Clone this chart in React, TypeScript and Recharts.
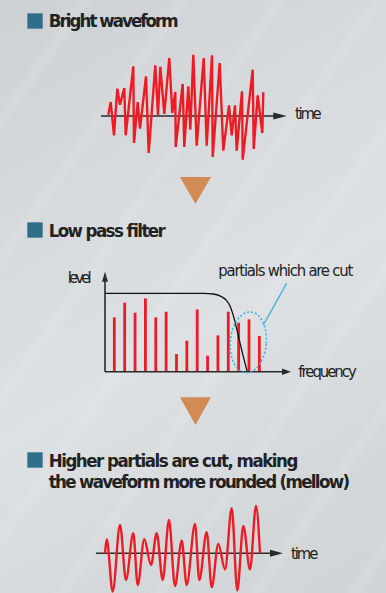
import React from 'react';
import { LineChart, ComposedChart, Line, Bar, XAxis, YAxis, ReferenceLine, ReferenceDot } from 'recharts';

// Bright waveform (time, amplitude)
const brightTime = [8.3, 10.7, 14, 17.3, 20, 24.3, 25.7, 33.3, 34, 37.7, 40, 46, 48.7, 55.3, 58, 60.3, 64.3, 69.3, 72.3, 75.3, 75.7, 82.7, 84.3, 88.3, 90.3, 93.3, 96.7, 103.7, 106.7, 112, 112.7, 119.7, 123.3, 129, 131.7, 135, 136.7, 142, 142.7, 152.7, 153.7, 157.7, 162.3, 163.3];
const brightAmp = [1.3, 14, -19.3, 27.3, 11.3, 28, -19.3, 49.7, -27, 14, -12.7, 39.7, -37, 50.7, 0.7, 49.3, 2, 58, 3, 24, -31, 32, -31, 29.7, -13.7, 61.3, -29.7, 58, -29.7, 60.7, -41, 53, -34.7, 10.7, -19.3, 10.7, -34.7, 24.7, -43.7, 46.3, -33, 20.7, -17, 23.7];

// Partials (harmonic number, level)
const partialNumber = [1, 2, 3, 4, 5, 6, 7, 8, 9, 10, 11, 12, 13, 14, 15];
const partialLevel = [54.3, 69, 59, 73.3, 54.3, 60, 17.7, 31, 62.3, 16, 36.3, 60, 49, 52.3, 35.7];

// Low pass filter response
const filterFreq = [0.1, 9.59, 10.55, 11.36, 11.84, 12.16, 12.42, 12.68, 13.06, 13.45, 13.83];
const filterLevel = [78.3, 78.3, 77.7, 75, 71, 65.7, 58.3, 48.3, 31.7, 15, 0];

// Mellow waveform
const mellowTime = [15, 16.7, 22.7, 30, 36, 43.3, 47.7, 54.3, 61, 66.7, 72.7, 79, 85, 91.7, 96.7, 105, 109.3, 116.7, 121.7, 128.3, 135, 141.7, 147.3, 153.3, 160, 166, 170];
const mellowAmp = [0, 14, -38.3, 28.3, -26.7, 20, -31.7, 14, -11.7, 20, -26.7, 33.3, -32.7, 12.7, -31.7, 29.3, -26.7, 21, -34, 9.3, -16, 45, -37.3, 27.3, -16, 47.3, 0];

const brightData = brightTime.map((t, i) => ({ t, a: brightAmp[i] }));
const partialData = partialNumber.map((n, i) => ({ n, level: partialLevel[i] }));
const filterData = filterFreq.map((n, i) => ({ n, level: filterLevel[i] }));
const mellowData = mellowTime.map((t, i) => ({ t, a: mellowAmp[i] }));

const RED = '#ed1c24';
const AXIS = '#2a2a2a';
const BLUE = '#35aee2';
const NARROW = "'Liberation Sans Narrow', 'Arial Narrow', 'DejaVu Sans Condensed', sans-serif";

const arrowRight = (len: number, half: number) => (p: any) => (
  <polygon points={`${p.cx},${p.cy - half} ${p.cx},${p.cy + half} ${p.cx + len},${p.cy}`} fill={AXIS} />
);
const arrowUp = (len: number, half: number) => (p: any) => (
  <polygon points={`${p.cx - half},${p.cy} ${p.cx + half},${p.cy} ${p.cx},${p.cy - len}`} fill={AXIS} />
);
const cutEllipse = (p: any) => (
  <ellipse cx={p.cx} cy={p.cy} rx={18} ry={30.5} fill="none" stroke={BLUE} strokeWidth={1.5}
    strokeDasharray="2 2" transform={`rotate(5 ${p.cx} ${p.cy})`} />
);
const partialBar = (p: any) => {
  const cx = p.x + p.width / 2;
  return <rect x={cx - 1.4} y={p.y} width={2.8} height={p.height} fill={RED} />;
};

const zeroMargin = { top: 0, right: 0, bottom: 0, left: 0 };

export default function App() {
  return (
    <div style={{ position: 'absolute', left: 0, top: 0, width: 386, height: 593, overflow: 'hidden',
      background: 'linear-gradient(150deg, #cdd1d4 0%, #d6dadd 30%, #dde1e3 55%, #d4d8db 80%, #d0d4d7 100%)' }}>
      <div style={{ position: 'absolute', inset: 0,
        background: 'repeating-linear-gradient(125deg, rgba(255,255,255,0) 0px, rgba(255,255,255,0) 60px, rgba(255,255,255,0.12) 70px, rgba(255,255,255,0) 80px)' }} />

      {/* Bright waveform */}
      <div style={{ position: 'absolute', left: 100, top: 45 }}>
        <LineChart width={200} height={125} data={brightData} margin={zeroMargin}>
          <XAxis type="number" dataKey="t" domain={[0, 200]} hide allowDataOverflow />
          <YAxis type="number" domain={[-54, 71]} hide allowDataOverflow />
          <ReferenceLine segment={[{ x: 1, y: 0 }, { x: 174, y: 0 }]} stroke={AXIS} strokeWidth={1.6} />
          <ReferenceDot x={173.3} y={0} shape={arrowRight(13.5, 3.5)} />
          <Line dataKey="a" type="linear" stroke={RED} strokeWidth={2.4} dot={false} isAnimationActive={false} strokeLinejoin="miter" />
        </LineChart>
      </div>

      {/* Low pass filter */}
      <div style={{ position: 'absolute', left: 90, top: 262 }}>
        <ComposedChart width={280} height={120} data={partialData} margin={zeroMargin}>
          <XAxis type="number" dataKey="n" domain={[-1.351, 25.676]} hide allowDataOverflow />
          <YAxis type="number" domain={[-10.3, 109.7]} hide allowDataOverflow />
          <Bar dataKey="level" fill={RED} barSize={3} shape={partialBar} isAnimationActive={false} />
          <Line data={filterData} dataKey="level" type="monotone" stroke="#111" strokeWidth={1.3} dot={false} isAnimationActive={false} />
          <ReferenceLine segment={[{ x: 0.0965, y: 0 }, { x: 17.2, y: 0 }]} stroke={AXIS} strokeWidth={1.6} />
          <ReferenceLine segment={[{ x: 0.0965, y: 0 }, { x: 0.0965, y: 91 }]} stroke={AXIS} strokeWidth={1.6} />
          <ReferenceDot x={17.18} y={0} shape={arrowRight(9, 3.3)} />
          <ReferenceDot x={0.0965} y={90} shape={arrowUp(10, 3)} />
          <ReferenceDot x={13.93} y={29.4} shape={cutEllipse} />
          <ReferenceLine segment={[{ x: 15.38, y: 46.7 }, { x: 17.63, y: 88.4 }]} stroke={BLUE} strokeWidth={1.3} />
        </ComposedChart>
      </div>

      {/* Mellow waveform */}
      <div style={{ position: 'absolute', left: 90, top: 500 }}>
        <LineChart width={200} height={93} data={mellowData} margin={zeroMargin}>
          <XAxis type="number" dataKey="t" domain={[0, 200]} hide allowDataOverflow />
          <YAxis type="number" domain={[-39.7, 53.3]} hide allowDataOverflow />
          <ReferenceLine segment={[{ x: 6, y: 0 }, { x: 181, y: 0 }]} stroke={AXIS} strokeWidth={1.6} />
          <ReferenceDot x={180} y={0} shape={arrowRight(13, 3.5)} />
          <Line dataKey="a" type="monotone" stroke={RED} strokeWidth={2.4} dot={false} isAnimationActive={false} />
        </LineChart>
      </div>

      {/* Text and decorations */}
      <svg width={386} height={593} style={{ position: 'absolute', left: 0, top: 0, pointerEvents: 'none' }}>
        <rect x={27.3} y={13.3} width={15.4} height={15.4} fill="#2f6f8a" />
        <rect x={27.3} y={222.3} width={15.4} height={15.4} fill="#2f6f8a" />
        <rect x={27.3} y={452.3} width={15.4} height={15.4} fill="#2f6f8a" />
        <g fontFamily={NARROW} fontWeight="bold" fontSize={18.5} fill="#222">
          <text x={48.7} y={26.7} textLength={130} lengthAdjust="spacing">Bright waveform</text>
          <text x={48.7} y={236.7} textLength={117} lengthAdjust="spacing">Low pass filter</text>
          <text x={48.7} y={466.7} textLength={249.6} lengthAdjust="spacing">Higher partials are cut, making</text>
          <text x={48.7} y={487.7} textLength={301.3} lengthAdjust="spacing">the waveform more rounded (mellow)</text>
        </g>
        <g fontFamily={NARROW} fontSize={16.5} fill="#222">
          <text x={295} y={119} textLength={26.7} lengthAdjust="spacing">time</text>
          <text x={291} y={559.3} textLength={27.3} lengthAdjust="spacing">time</text>
          <text x={67.7} y={282.7} textLength={24} lengthAdjust="spacing">level</text>
          <text x={218.3} y={275.7} textLength={135} lengthAdjust="spacing">partials which are cut</text>
          <text x={298.3} y={377.3} textLength={58.4} lengthAdjust="spacing">frequency</text>
        </g>
        <polygon points="180,177 211,177 195.5,204" fill="#d38b55" />
        <polygon points="180,397.3 211,397.3 195.5,425" fill="#d38b55" />
      </svg>
    </div>
  );
}
